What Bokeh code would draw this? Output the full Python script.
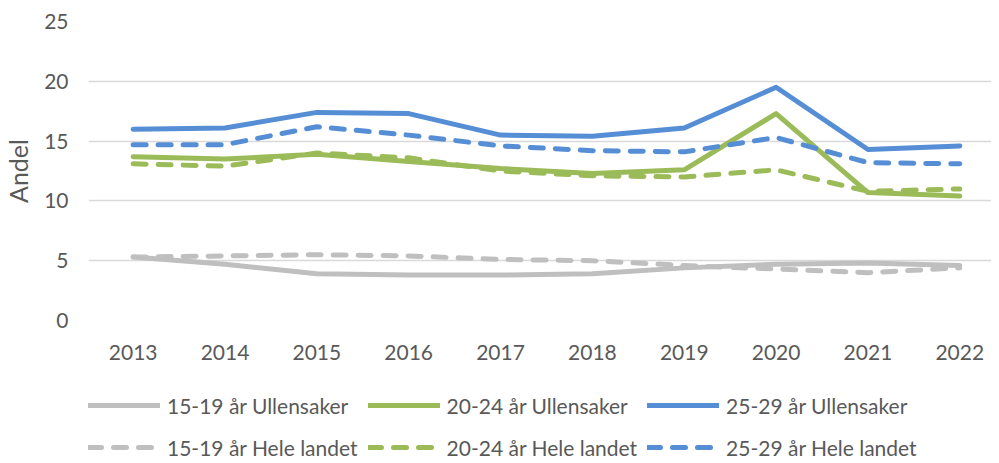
from bokeh.plotting import figure
from bokeh.models import Legend, LegendItem, FixedTicker, NumeralTickFormatter, Range1d
from bokeh.layouts import column
from bokeh.embed import file_html
from bokeh.resources import INLINE

years = [2013, 2014, 2015, 2016, 2017, 2018, 2019, 2020, 2021, 2022]
u_15_19 = [5.3, 4.7, 3.9, 3.8, 3.8, 3.9, 4.4, 4.7, 4.8, 4.6]
u_20_24 = [13.7, 13.5, 13.9, 13.3, 12.7, 12.3, 12.6, 17.3, 10.7, 10.4]
u_25_29 = [16.0, 16.1, 17.4, 17.3, 15.5, 15.4, 16.1, 19.5, 14.3, 14.6]
h_15_19 = [5.3, 5.4, 5.5, 5.4, 5.1, 5.0, 4.6, 4.3, 4.0, 4.4]
h_20_24 = [13.1, 12.9, 14.0, 13.6, 12.5, 12.1, 12.0, 12.6, 10.8, 11.0]
h_25_29 = [14.7, 14.7, 16.2, 15.5, 14.6, 14.2, 14.1, 15.3, 13.2, 13.1]
labels_u = ["15-19 år Ullensaker", "20-24 år Ullensaker", "25-29 år Ullensaker"]
labels_h = ["15-19 år Hele landet", "20-24 år Hele landet", "25-29 år Hele landet"]
colors = ["#BFBFBF", "#9BBB59", "#558ED5"]
y_ticks = [0, 5, 10, 15, 20, 25]

FONT = "Lato"
TXT = "#595959"
DASH = "13 12"

p = figure(output_backend="svg", toolbar_location=None,
           width=991, height=375,
           min_border_left=81, min_border_top=21, min_border_right=0, min_border_bottom=55,
           x_range=Range1d(2012.514, 2022.345), y_range=Range1d(0, 25))
p.outline_line_color = None
p.background_fill_color = "white"

p.xgrid.grid_line_color = None
p.ygrid.grid_line_color = "#D9D9D9"
p.ygrid.grid_line_width = 1.3
p.ygrid.ticker = FixedTicker(ticks=y_ticks)

p.xaxis.ticker = FixedTicker(ticks=years)
p.xaxis.formatter = NumeralTickFormatter(format="0")
p.yaxis.ticker = FixedTicker(ticks=y_ticks)
for ax in (p.xaxis[0], p.yaxis[0]):
    ax.axis_line_color = None
    ax.major_tick_line_color = None
    ax.minor_tick_line_color = None
    ax.major_tick_out = 0
    ax.major_tick_in = 0
    ax.major_label_text_font = FONT
    ax.major_label_text_font_size = "21px"
    ax.major_label_text_color = TXT
p.xaxis.major_label_standoff = 24
p.yaxis.major_label_standoff = 20
p.yaxis.axis_label = "Andel"
p.yaxis.axis_label_text_font = FONT
p.yaxis.axis_label_text_font_size = "25px"
p.yaxis.axis_label_text_font_style = "normal"
p.yaxis.axis_label_text_color = TXT
p.yaxis.axis_label_standoff = 8

for ys, c in zip([u_15_19, u_20_24, u_25_29], colors):
    p.line(years, ys, line_color=c, line_width=5, line_cap="round", line_join="round")
for ys, c in zip([h_15_19, h_20_24, h_25_29], colors):
    p.line(years, ys, line_color=c, line_width=5, line_cap="round",
           line_join="round", line_dash=DASH)

# legend holder figure (no axes); its lines lie outside its ranges so only legend glyphs show
lf = figure(output_backend="svg", toolbar_location=None, width=991, height=88,
            min_border=0, x_axis_location=None, y_axis_location=None,
            x_range=Range1d(0, 1), y_range=Range1d(0, 1))
lf.outline_line_color = None
lf.grid.grid_line_color = None
hidden_x = [5, 6]
hidden_y = [5, 6]
items = []
for l, c in zip(labels_u, colors):
    r = lf.line(hidden_x, hidden_y, line_color=c, line_width=5, line_cap="round")
    items.append(LegendItem(label=l, renderers=[r]))
for l, c in zip(labels_h, colors):
    r = lf.line(hidden_x, hidden_y, line_color=c, line_width=5, line_cap="round", line_dash=DASH)
    items.append(LegendItem(label=l, renderers=[r]))

leg = Legend(items=items, orientation="horizontal", ncols=3, location=(0, 0),
             glyph_width=72, glyph_height=32, label_standoff=7, spacing=10,
             label_width=183,
             label_text_font=FONT, label_text_font_size="21px", label_text_color=TXT,
             border_line_color=None, background_fill_alpha=0, padding=0, margin=0)
lf.add_layout(leg, "center")

open("out.html", "w").write(file_html(column(p, lf, spacing=0), INLINE))
